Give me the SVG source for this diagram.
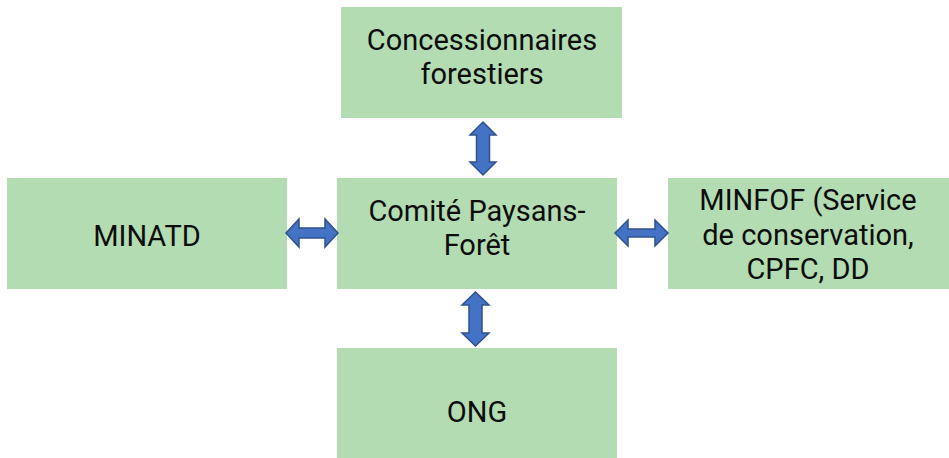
<svg xmlns="http://www.w3.org/2000/svg" width="949" height="458" viewBox="0 0 949 458">
<style>
.box{fill:#b3dcb3;}
.t{font-family:Roboto,"Liberation Sans",sans-serif;font-size:29px;fill:#0d0d0d;text-anchor:middle;}
.arr{fill:#4472c4;stroke:#2f528f;stroke-width:1.5;stroke-linejoin:miter;}
</style>
<rect width="949" height="458" fill="#fff"/>
<g id="concessionnaires">
<rect class="box" x="341" y="7" width="281" height="111"/>
<text class="t" x="482" y="50">Concessionnaires</text>
<text class="t" x="482" y="84">forestiers</text>
</g>
<g id="minatd">
<rect class="box" x="7" y="178" width="280" height="111"/>
<text class="t" x="147" y="246">MINATD</text>
</g>
<g id="comite">
<rect class="box" x="337" y="178" width="280" height="111"/>
<text class="t" x="477" y="221">Comité Paysans-</text>
<text class="t" x="477" y="255">Forêt</text>
</g>
<g id="minfof">
<rect class="box" x="668" y="178" width="281" height="111"/>
<text class="t" x="808" y="210">MINFOF (Service</text>
<text class="t" x="808" y="245">de conservation,</text>
<text class="t" x="808" y="279">CPFC, DD</text>
</g>
<g id="ong">
<rect class="box" x="337" y="348" width="280" height="110"/>
<text class="t" x="477" y="422">ONG</text>
</g>
<g id="connectors">
<path class="arr" d="M286,233 L299,219 L299,228 L325,228 L325,219 L338,233 L325,247 L325,238 L299,238 L299,247 Z"/>
<path class="arr" d="M615,233 L628,220 L628,229 L655,229 L655,220 L668,233 L655,246 L655,237 L628,237 L628,246 Z"/>
<path class="arr" d="M483,122 L496,135 L489.5,135 L489.5,162 L496,162 L483,175 L470,162 L476.5,162 L476.5,135 L470,135 Z"/>
<path class="arr" d="M475.5,292 L489,305 L482,305 L482,333 L489,333 L475.5,346 L462,333 L469,333 L469,305 L462,305 Z"/>
</g>
</svg>
